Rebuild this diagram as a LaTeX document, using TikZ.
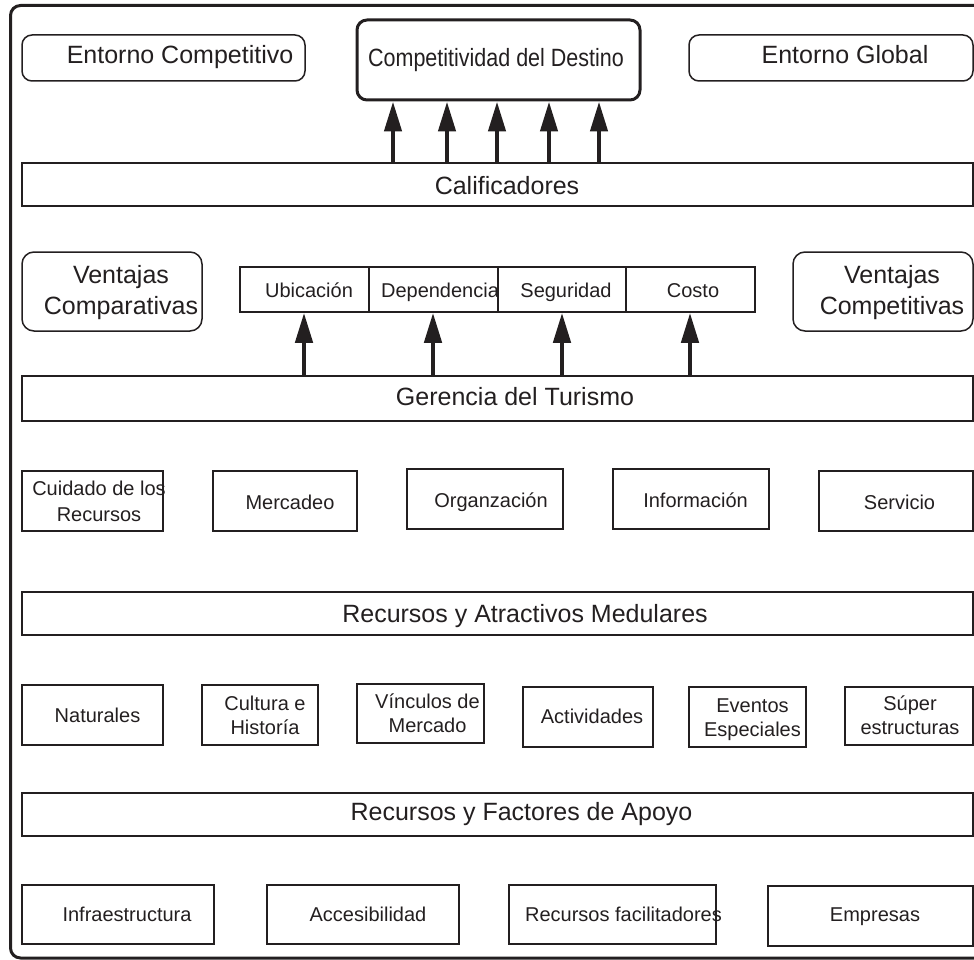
\documentclass[tikz,border=0pt]{standalone}
\usepackage{fontspec}
\setmainfont{Liberation Sans}
\usetikzlibrary{arrows.meta}
\definecolor{ink}{RGB}{35,31,32}
\begin{document}
\begin{tikzpicture}[x=1pt,y=-1pt,
  box/.style={draw=ink, line width=1.5pt, inner sep=0pt},
  rbox/.style={box, rounded corners=10pt},
  big/.style={font=\fontsize{25}{31}\selectfont, text=ink, align=center, inner sep=0pt, anchor=base},
  small/.style={font=\fontsize{20}{24}\selectfont, text=ink, align=center, inner sep=0pt, anchor=base},
  arr/.style={draw=ink, line width=4.5pt, -{Triangle[length=30pt,width=17pt]}},
]
\useasboundingbox (0,0) rectangle (974,960);
% outer frame
\draw[ink, line width=3pt, rounded corners=10pt] (974,5.5) -- (10.5,5.5) -- (10.5,958) -- (974,958);

% top row
\node[rbox, minimum width=283pt, minimum height=46pt] (ec) at (163.5,58) {};
\node[big] (tec) at (180,64) {Entorno Competitivo};
\node[rbox, line width=3pt, minimum width=283pt, minimum height=80pt] (comp) at (498.5,60) {};
\node[big] (tcomp) at (496,67) {\scalebox{0.86}[1]{Competitividad del Destino}};
\node[rbox, minimum width=284pt, minimum height=46pt] (eg) at (831,58) {};
\node[big] (teg) at (845,64) {Entorno Global};

\node[box, minimum width=951pt, minimum height=43pt] (cal) at (497.5,184.5) {};
\node[big] (tcal) at (507,194) {Calificadores};
\foreach \x in {393,447,497,549,599}
  \draw[arr] (cal.north -| \x,0) -- (comp.south -| \x,0);

% qualifiers row
\node[rbox, rounded corners=12pt, minimum width=180pt, minimum height=79pt] (vc) at (112,291.5) {};
\node[big] (tvc) at (121,314) {Ventajas\\Comparativas};
\node[box, minimum width=129pt, minimum height=45pt] (ub) at (304.5,289.5) {};
\node[box, minimum width=129pt, minimum height=45pt] (dep) at (433.5,289.5) {};
\node[box, minimum width=128pt, minimum height=45pt] (seg) at (562,289.5) {};
\node[box, minimum width=129pt, minimum height=45pt] (cos) at (690.5,289.5) {};
\node[small] (tub) at (309,297) {Ubicación};
\node[small] (tdep) at (440,297) {Dependencia};
\node[small] (tseg) at (566,297) {Seguridad};
\node[small] (tcos) at (693,297) {Costo};
\node[rbox, rounded corners=12pt, minimum width=180pt, minimum height=79pt] (vk) at (883,291.5) {};
\node[big] (tvk) at (892,314) {Ventajas\\Competitivas};

\node[box, minimum width=951pt, minimum height=45pt] (ger) at (497.5,398.5) {};
\node[big] (tger) at (515,405) {Gerencia del Turismo};
\foreach \x/\n in {304/ub,433/dep,562/seg,690/cos}
  \draw[arr] (ger.north -| \x,0) -- (\n.south -| \x,0);

% management row
\node[box, minimum width=141pt, minimum height=60pt] (cui) at (92.5,501) {};
\node[small, font=\fontsize{20}{25.5}\selectfont] (tcui) at (99,521) {Cuidado de los\\Recursos};
\node[box, minimum width=144pt, minimum height=60pt] (mer) at (285,501) {};
\node[small] (tmer) at (290,509) {Mercadeo};
\node[box, minimum width=156pt, minimum height=60pt] (org) at (485,499) {};
\node[small] (torg) at (491,507) {Organzación};
\node[box, minimum width=156pt, minimum height=60pt] (inf) at (691,499) {};
\node[small] (tinf) at (695.5,507) {Información};
\node[box, minimum width=154pt, minimum height=60pt] (ser) at (896,501) {};
\node[small] (tser) at (899.5,509) {Servicio};

\node[box, minimum width=951pt, minimum height=43pt] (ram) at (497.5,613.5) {};
\node[big] (tram) at (525,622) {Recursos y Atractivos Medulares};

% core resources row
\node[box, minimum width=141pt, minimum height=60pt] (nat) at (92.5,715) {};
\node[small] (tnat) at (97.5,722) {Naturales};
\node[box, minimum width=116pt, minimum height=60pt] (cul) at (260,715) {};
\node[small] (tcul) at (265,734.5) {Cultura e\\Historía};
\node[box, minimum width=127pt, minimum height=59pt] (vin) at (420.5,713.5) {};
\node[small] (tvin) at (427.5,732.5) {Vínculos de\\Mercado};
\node[box, minimum width=130pt, minimum height=60pt] (act) at (588,717) {};
\node[small] (tact) at (592,723) {Actividades};
\node[box, minimum width=117pt, minimum height=60pt] (eve) at (747.5,717) {};
\node[small] (teve) at (752.5,736) {Eventos\\Especiales};
\node[box, minimum width=128pt, minimum height=58pt] (sup) at (909,716) {};
\node[small] (tsup) at (910,734) {Súper\\ estructuras};

\node[box, minimum width=951pt, minimum height=43pt] (rfa) at (497.5,814.5) {};
\node[big] (trfa) at (521.5,820) {Recursos y Factores de Apoyo};

% supporting row
\node[box, minimum width=192pt, minimum height=59pt] (infra) at (118,914.5) {};
\node[small] (tinfra) at (127,921) {Infraestructura};
\node[box, minimum width=192pt, minimum height=59pt] (acc) at (363,914.5) {};
\node[small] (tacc) at (368,921) {Accesibilidad};
\node[box, minimum width=207pt, minimum height=59pt] (rfac) at (612.5,914.5) {};
\node[small] (trfac) at (623.5,921) {Recursos facilitadores};
\node[box, minimum width=205pt, minimum height=60pt] (emp) at (870.5,916) {};
\node[small] (temp) at (875,921) {Empresas};
\end{tikzpicture}
\end{document}
